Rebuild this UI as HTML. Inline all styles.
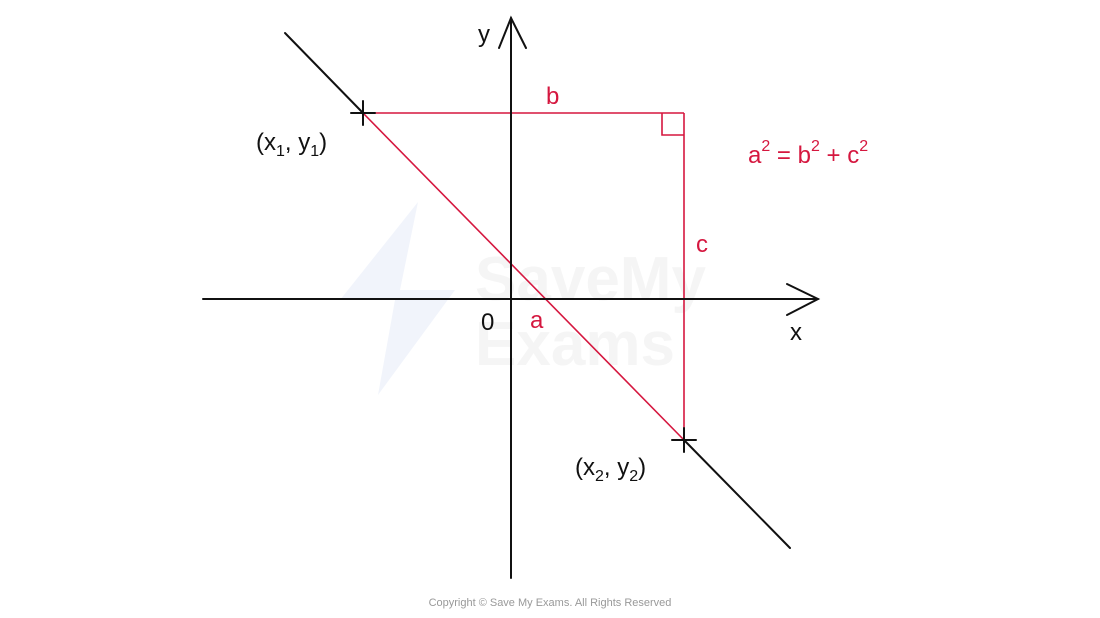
<!DOCTYPE html>
<html><head><style>
html,body{margin:0;padding:0;background:#fff;}
svg{display:block;}
text{font-family:"Liberation Sans",sans-serif;}
</style></head><body>
<svg width="1100" height="618" viewBox="0 0 1100 618" xmlns="http://www.w3.org/2000/svg">
<g fill="#f1f4fb">
<polygon points="418,202 340,300 395,300 378,395 455,290 400,290"/>
</g>
<text x="475" y="300" font-size="62" font-weight="bold" fill="#f5f5f5">SaveMy</text>
<text x="475" y="365" font-size="62" font-weight="bold" fill="#f5f5f5">Exams</text>
<g stroke="#d5173f" stroke-width="1.6" fill="none">
<line x1="363" y1="113" x2="684" y2="113"/>
<line x1="684" y1="113" x2="684" y2="440"/>
<line x1="363" y1="113" x2="684" y2="440"/>
<polyline points="662,113 662,135 684,135"/>
</g>
<g stroke="#111" stroke-width="2" fill="none" stroke-linecap="round">
<line x1="511" y1="18" x2="511" y2="578"/>
<polyline points="499,48 511,18 526,48"/>
<line x1="203" y1="299" x2="818" y2="299"/>
<polyline points="787,284 818,299 787,315"/>
<line x1="285" y1="33" x2="363" y2="113"/>
<line x1="684" y1="440" x2="790" y2="548"/>
<line x1="351" y1="113" x2="375" y2="113"/><line x1="363" y1="101" x2="363" y2="125"/>
<line x1="672" y1="440" x2="696" y2="440"/><line x1="684" y1="428" x2="684" y2="452"/>
</g>
<g font-size="24" fill="#111">
<text x="478" y="42">y</text>
<text x="790" y="340">x</text>
<text x="481" y="330">0</text>
<text x="256" y="150">(x<tspan font-size="16" dy="6">1</tspan><tspan dy="-6">, y</tspan><tspan font-size="16" dy="6">1</tspan><tspan dy="-6">)</tspan></text>
<text x="575" y="475">(x<tspan font-size="16" dy="6">2</tspan><tspan dy="-6">, y</tspan><tspan font-size="16" dy="6">2</tspan><tspan dy="-6">)</tspan></text>
</g>
<g font-size="24" fill="#d5173f">
<text x="530" y="328">a</text>
<text x="546" y="104">b</text>
<text x="696" y="252">c</text>
<text x="748" y="163">a<tspan font-size="16" dy="-12">2</tspan><tspan dy="12"> = b</tspan><tspan font-size="16" dy="-12">2</tspan><tspan dy="12"> + c</tspan><tspan font-size="16" dy="-12">2</tspan></text>
</g>
<text x="550" y="606" font-size="11" fill="#999" text-anchor="middle">Copyright © Save My Exams. All Rights Reserved</text>
</svg>
</body></html>
